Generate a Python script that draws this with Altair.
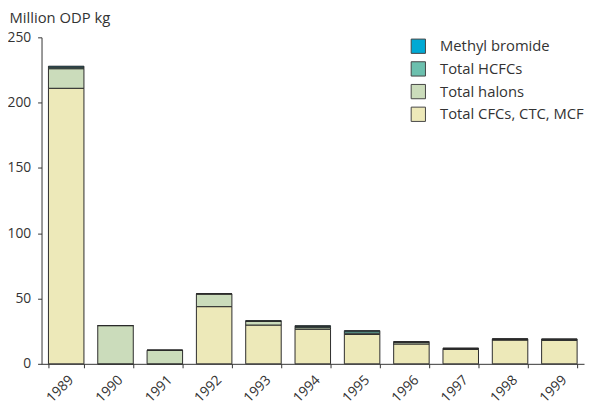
import altair as alt
import pandas as pd

years = ["1989", "1990", "1991", "1992", "1993", "1994", "1995", "1996", "1997", "1998", "1999"]
cfcs = [211.0, 0.0, 0.0, 43.8, 29.7, 26.5, 22.5, 15.2, 11.0, 18.2, 18.0]
halons = [15.0, 29.3, 10.4, 9.8, 2.8, 1.2, 1.0, 1.3, 0.5, 0.4, 0.4]
hcfcs = [1.2, 0.0, 0.0, 0.0, 0.3, 1.0, 1.5, 0.4, 0.4, 0.5, 0.5]
methyl = [0.7, 0.0, 0.0, 0.0, 0.2, 0.5, 0.4, 0.0, 0.0, 0.0, 0.0]

series_names = ["Total CFCs, CTC, MCF", "Total halons", "Total HCFCs", "Methyl bromide"]
series_values = [cfcs, halons, hcfcs, methyl]
legend_order = ["Methyl bromide", "Total HCFCs", "Total halons", "Total CFCs, CTC, MCF"]
legend_colors = ["#00a9d4", "#6cc0ae", "#cbdcbb", "#ede9b9"]

rows = []
for si, (name, vals) in enumerate(zip(series_names, series_values)):
    for y, v in zip(years, vals):
        rows.append({"Year": y, "Series": name, "Value": v, "Order": si})
df = pd.DataFrame(rows)

FONT = "Open Sans"
FS = 14

chart = alt.Chart(df).mark_bar(stroke="#2b2b2b", strokeWidth=1).encode(
    x=alt.X("Year:N", sort=years,
            scale=alt.Scale(paddingInner=0.28, paddingOuter=0.14),
            axis=alt.Axis(title=None, labelAngle=-45, tickBand="extent",
                          labelFontSize=FS, labelColor="#333333", labelFont=FONT,
                          tickSize=4, tickColor="#333333", domainColor="#333333",
                          labelPadding=5)),
    y=alt.Y("Value:Q", stack="zero",
            scale=alt.Scale(domain=[0, 250], nice=False),
            axis=alt.Axis(values=[0, 50, 100, 150, 200, 250], grid=False,
                          title="Million ODP kg", titleAngle=0, titleAlign="left",
                          titleBaseline="alphabetic", titleX=-33, titleY=-15,
                          titleFontSize=15, titleFontWeight="normal", titleFont=FONT,
                          titleColor="#333333",
                          labelFontSize=FS, labelFont=FONT, labelColor="#333333",
                          tickSize=4, labelPadding=7, tickColor="#333333",
                          domainColor="#333333")),
    color=alt.Color("Series:N",
                    scale=alt.Scale(domain=legend_order, range=legend_colors),
                    legend=alt.Legend(title=None, orient="none", legendX=374, legendY=1,
                                      symbolType="square", symbolSize=210,
                                      symbolStrokeColor="#444444", symbolStrokeWidth=1,
                                      symbolOpacity=1,
                                      labelFontSize=15, labelFont=FONT, labelColor="#333333",
                                      labelOffset=14, rowPadding=3)),
    order=alt.Order("Order:Q", sort="ascending"),
).properties(
    width=550, height=331,
    autosize=alt.AutoSizeParams(type="none"),
    padding={"left": 34, "top": 27, "right": 2, "bottom": 40},
).configure_view(stroke=None)

chart.save("out.html", embed_options={"renderer": "svg", "actions": False})
